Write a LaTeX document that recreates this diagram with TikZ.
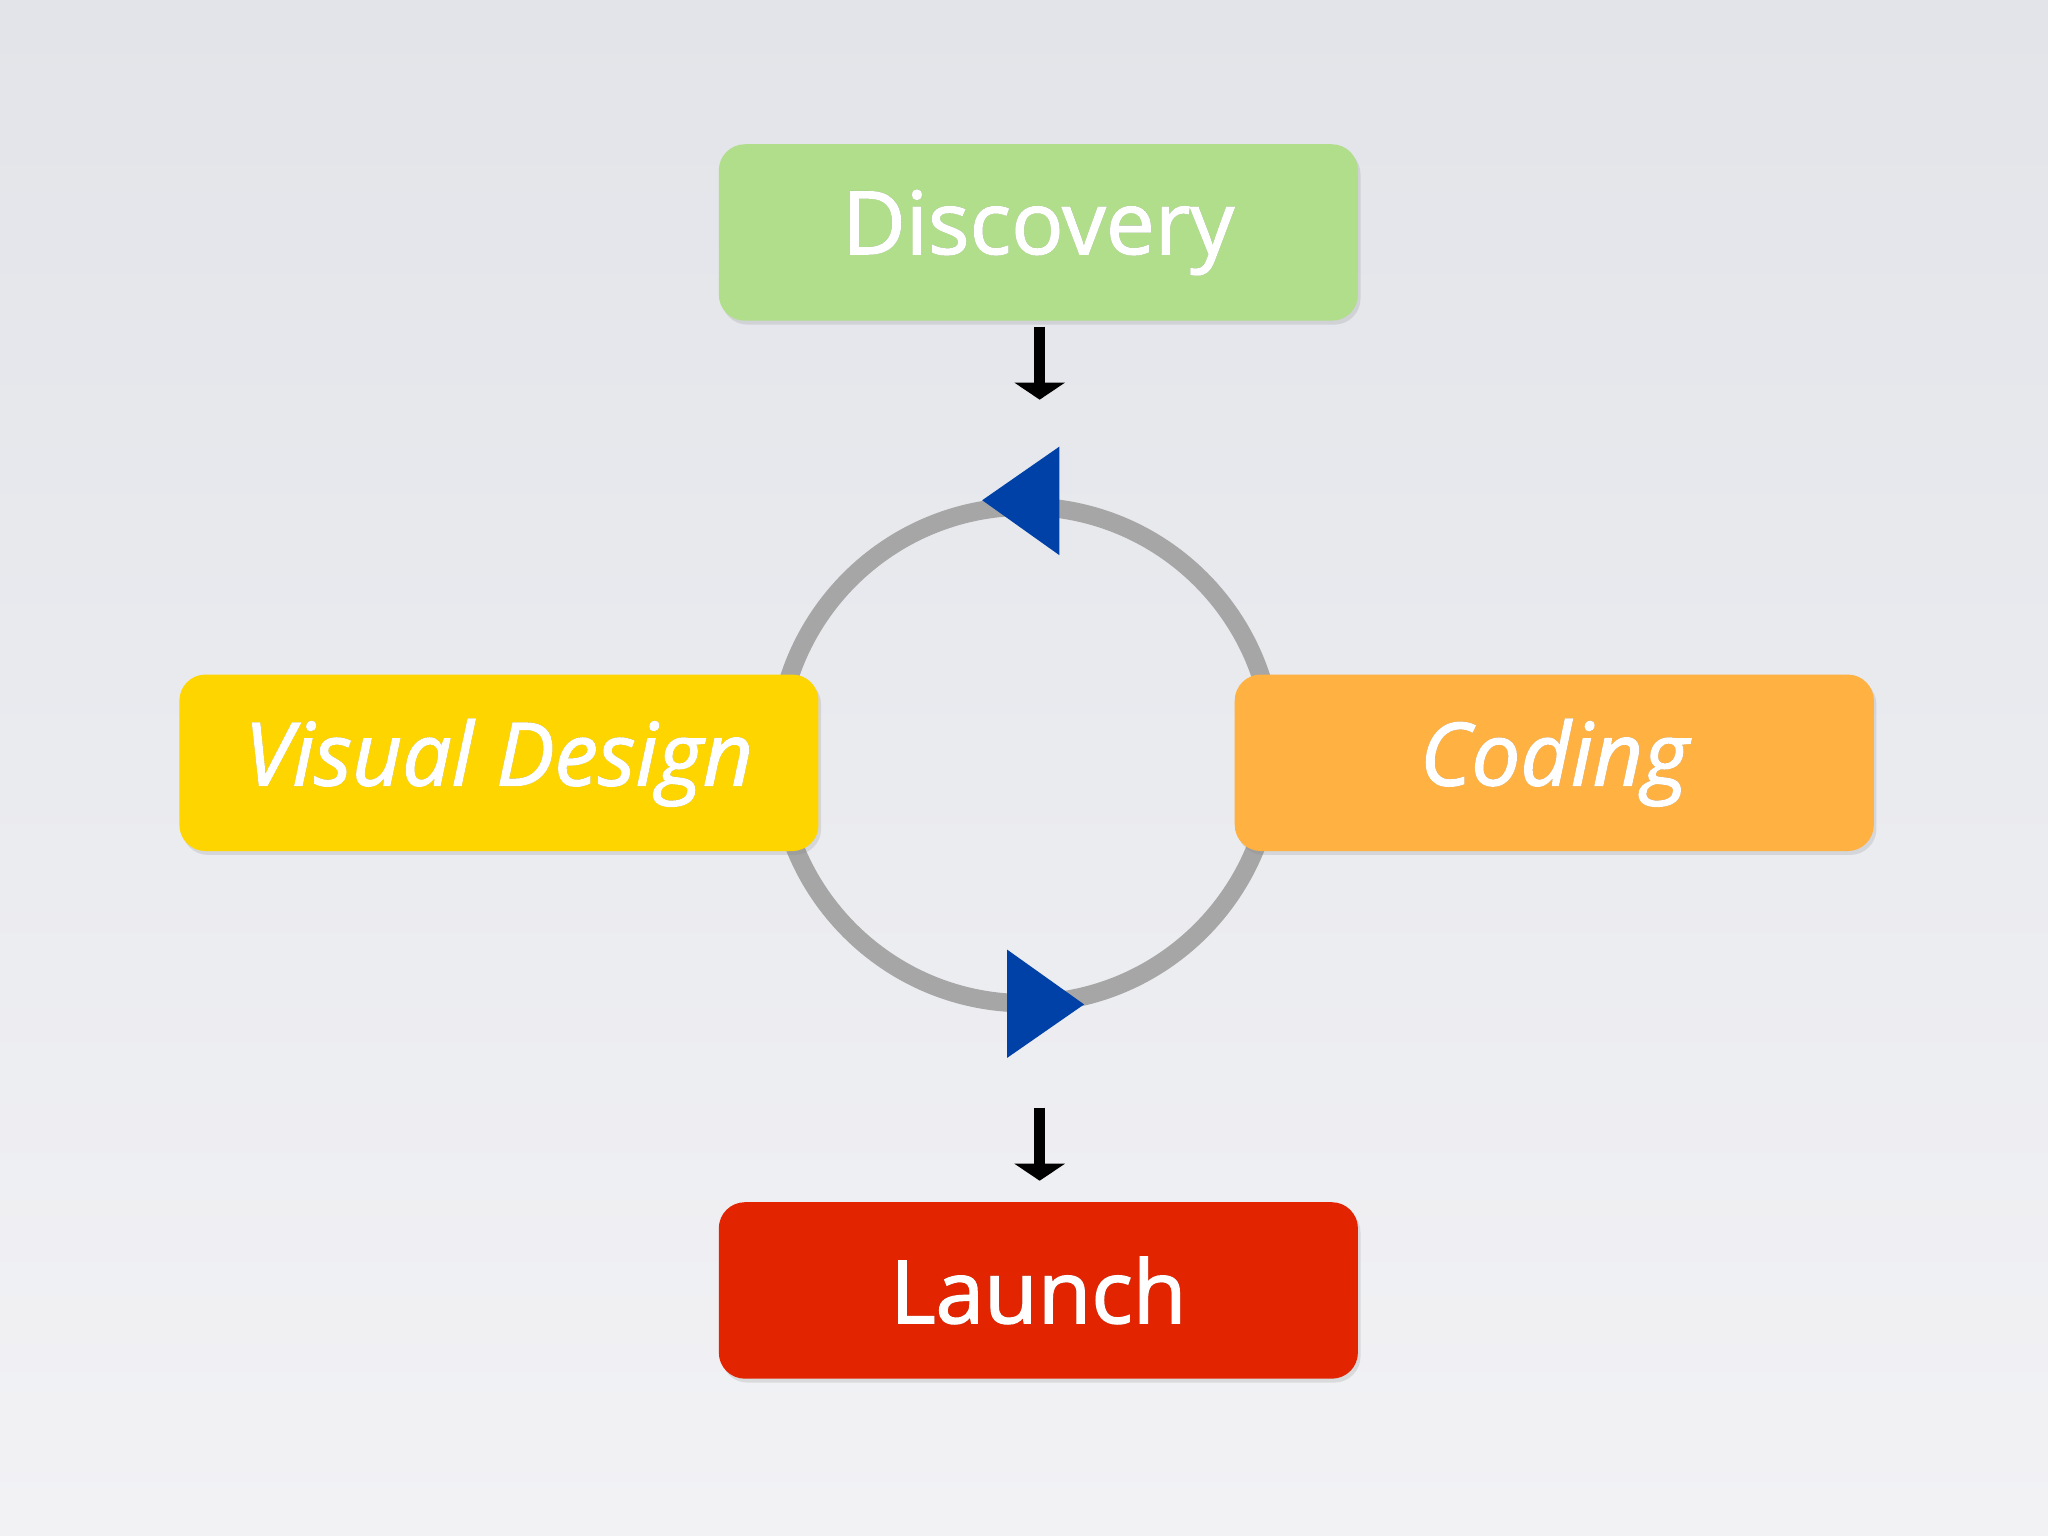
\documentclass[tikz,border=0pt]{standalone}
\usepackage{fontspec}
\setmainfont{Open Sans}[FakeBold=1.6, BoldFont=Open Sans, BoldItalicFont=Open Sans Italic]
\usetikzlibrary{arrows.meta,shapes.geometric,shadows}
\definecolor{discgreen}{HTML}{B0DE8A}
\definecolor{visyellow}{HTML}{FFD500}
\definecolor{codorange}{HTML}{FFB142}
\definecolor{launchred}{HTML}{E22400}
\definecolor{loopblue}{HTML}{0041A8}
\definecolor{bgtop}{HTML}{E2E4E9}
\definecolor{bgbot}{HTML}{F2F2F5}
\newcommand{\shadowtext}[1]{\tikz[baseline]{\node[inner sep=0pt, anchor=base, text=black!50, opacity=0.6] at (0.04,-0.05) {#1};\node[inner sep=0pt, anchor=base] at (0,0) {#1};}}
\tikzset{
  stagebox/.style={rounded corners=0.2cm, minimum width=4.89cm, minimum height=1.35cm,
    text=white, font=\fontsize{19}{23}\selectfont\bfseries, inner sep=0pt, yshift=-0.05cm,
    drop shadow={shadow xshift=0.02cm, shadow yshift=-0.03cm, opacity=0.2}},
  flowarrow/.style={line width=2.5pt, -{Triangle[open, fill=black, length=0.13cm, width=0.38cm]}, black}
}
\begin{document}
\begin{tikzpicture}[x=0.01cm, y=-0.01cm]
    \shade[top color=bgtop, bottom color=bgbot] (0,0) rectangle (1568,1176);
    \useasboundingbox (0,0) rectangle (1568,1176);

    % loop
    \coordinate (loopc) at (785,578);
    \draw[gray!70, line width=4pt] (loopc) circle (1.9cm);

    \node[stagebox, fill=discgreen] (disc) at (795,173) {\shadowtext{Discovery}};
    \node[stagebox, fill=visyellow, font=\fontsize{19}{23}\selectfont\bfseries\itshape] (vis) at (382,579) {\shadowtext{Visual Design}};
    \node[stagebox, fill=codorange, font=\fontsize{19}{23}\selectfont\bfseries\itshape] (cod) at (1190,579) {\shadowtext{Coding}};
    \node[stagebox, fill=launchred] (launch) at (795,983) {\shadowtext{Launch}};

    % direction marks
    \fill[loopblue] (811,342) -- (752,383) -- (811,425) -- cycle;
    \fill[loopblue] (771,727) -- (830,769) -- (771,810) -- cycle;

    \coordinate (intop) at (796,250);
    \coordinate (outtop) at (796,306);
    \coordinate (inbot) at (796,848);
    \coordinate (outbot) at (796,904);
    \draw[flowarrow] (intop) -- (outtop);
    \draw[flowarrow] (inbot) -- (outbot);
\end{tikzpicture}
\end{document}
